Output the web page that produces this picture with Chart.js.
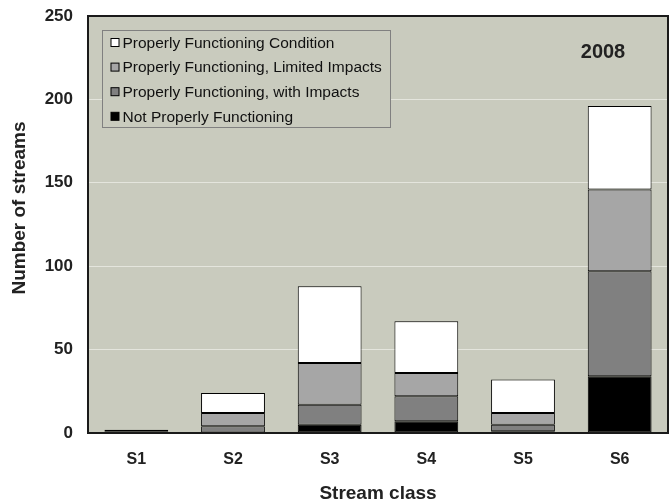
<!DOCTYPE html>
<html>
<head>
<meta charset="utf-8">
<script src="https://cdn.jsdelivr.net/npm/chart.js@4.4.0/dist/chart.umd.min.js"></script>
<style>
  body { margin: 0; background: #fff; }
  #wrap { width: 670px; height: 503px; position: relative; }
</style>
</head>
<body>
<div id="wrap"><canvas id="myChart"></canvas></div>
<script>
// stream classes and counts per condition
const categories = ['S1', 'S2', 'S3', 'S4', 'S5', 'S6'];
const notProper = [1, 0, 5, 7, 1, 34];
const withImpacts = [1, 4, 12, 15, 4, 63];
const limitedImpacts = [0, 8, 25, 14, 7, 49];
const properCondition = [0, 12, 46, 31, 20, 50];
const yTicks = [0, 50, 100, 150, 200, 250];

const FONT = "'Liberation Sans', Arial, sans-serif";

// plot background, frame, in-plot legend, y title and the year label
const plotFrame = {
  id: 'plotFrame',
  beforeDraw(chart) {
    const { ctx, chartArea: a } = chart;
    ctx.save();
    ctx.fillStyle = '#C9CBBE';
    ctx.fillRect(a.left, a.top, a.width, a.height);
    ctx.restore();
  },
  afterDraw(chart) {
    const { ctx, chartArea: a } = chart;
    ctx.save();
    ctx.strokeStyle = '#1a1a1a';
    ctx.lineWidth = 2;
    ctx.strokeRect(a.left, a.top, a.width, a.height);

    // legend box
    const lx = a.left + 14.5, ly = a.top + 14.5, lw = 288, lh = 97;
    ctx.fillStyle = '#C9CBBE';
    ctx.fillRect(lx, ly, lw, lh);
    ctx.strokeStyle = '#808080';
    ctx.lineWidth = 1;
    ctx.strokeRect(lx, ly, lw, lh);

    const sets = chart.data.datasets.slice().reverse();
    ctx.font = '15.5px ' + FONT;
    ctx.textBaseline = 'middle';
    sets.forEach((ds, i) => {
      const cy = ly + 12 + i * 24.6;
      ctx.fillStyle = ds.backgroundColor;
      ctx.fillRect(lx + 8.5, cy - 4, 8, 8);
      ctx.strokeStyle = '#000';
      ctx.strokeRect(lx + 8.5, cy - 4, 8, 8);
      ctx.fillStyle = '#111';
      ctx.fillText(ds.label, lx + 20, cy + 1);
    });

    ctx.font = 'bold 20px ' + FONT;
    ctx.textAlign = 'center';
    ctx.fillStyle = '#222';
    ctx.fillText('2008', a.right - 65, a.top + 36);

    // y axis title, sits a little above the plot's middle
    ctx.font = 'bold 19px ' + FONT;
    ctx.translate(20, 208);
    ctx.rotate(-Math.PI / 2);
    ctx.fillText('Number of streams', 0, 0);
    ctx.restore();
  }
};

const barStyle = { borderColor: '#000', borderWidth: 1, borderSkipped: false, categoryPercentage: 1, barPercentage: 0.66 };

new Chart(document.getElementById('myChart').getContext('2d'), {
  type: 'bar',
  data: {
    labels: categories,
    datasets: [
      { label: 'Not Properly Functioning', data: notProper, backgroundColor: '#000000', ...barStyle },
      { label: 'Properly Functioning, with Impacts', data: withImpacts, backgroundColor: '#808080', ...barStyle },
      { label: 'Properly Functioning, Limited Impacts', data: limitedImpacts, backgroundColor: '#A6A6A6', ...barStyle },
      { label: 'Properly Functioning Condition', data: properCondition, backgroundColor: '#FFFFFF', ...barStyle }
    ]
  },
  options: {
    responsive: true,
    maintainAspectRatio: false,
    animation: false,
    layout: { padding: { top: 16, right: 2, left: 0, bottom: 0 } },
    plugins: {
      legend: { display: false },
      tooltip: { enabled: false }
    },
    scales: {
      x: {
        stacked: true,
        grid: { display: false, drawTicks: false },
        border: { display: false },
        ticks: { color: '#222', padding: 17, font: { family: FONT, size: 16, weight: 'bold' } },
        title: { display: true, text: 'Stream class', color: '#222', padding: { top: 0, bottom: -2 }, font: { family: FONT, size: 19, weight: 'bold' } },
        afterFit(scale) { scale.height = 70; scale.paddingLeft = 0; scale.paddingRight = 0; }
      },
      y: {
        stacked: true,
        min: 0,
        max: 250,
        afterBuildTicks(scale) { scale.ticks = yTicks.map(v => ({ value: v })); },
        grid: { color: '#E4E5DD', lineWidth: 1, drawTicks: false },
        border: { display: false },
        ticks: { color: '#222', padding: 15, font: { family: FONT, size: 17, weight: 'bold' } },
        afterFit(scale) { scale.width = 88; scale.paddingTop = 0; scale.paddingBottom = 0; }
      }
    }
  },
  plugins: [plotFrame]
});
</script>
</body>
</html>
